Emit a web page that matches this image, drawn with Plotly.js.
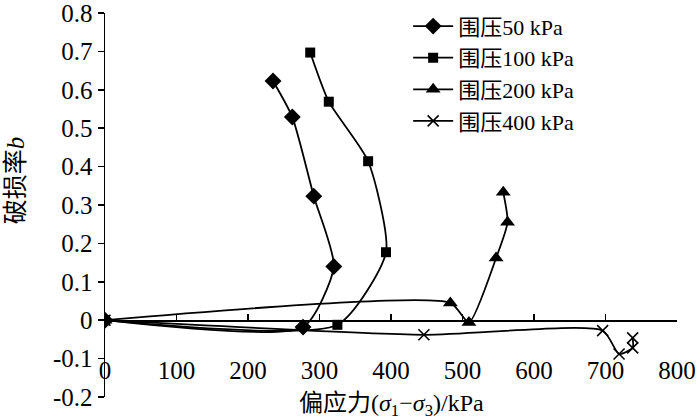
<!DOCTYPE html>
<html>
<head>
<meta charset="utf-8">
<script src="https://cdn.plot.ly/plotly-3.0.1.min.js"></script>
<style>html,body{margin:0;padding:0;background:#fff;}#chart{width:700px;height:420px;}</style>
</head>
<body>
<div id="chart"></div>
<script>
// Data
const seriesNames = ["围压50 kPa", "围压100 kPa", "围压200 kPa", "围压400 kPa"];
const x50  = [0, 277, 320, 292, 262, 235];
const y50  = [0, -0.018, 0.140, 0.323, 0.529, 0.623];
const x100 = [0, 325, 393, 368, 313, 287];
const y100 = [0, -0.012, 0.177, 0.414, 0.569, 0.697];
const x200 = [0, 483, 509, 547, 563, 557];
const y200 = [0, 0.045, -0.006, 0.162, 0.255, 0.333];
const x400 = [0, 446, 696, 719, 738, 738];
const y400 = [0, -0.038, -0.027, -0.088, -0.072, -0.046];
const xTickVals = [0, 100, 200, 300, 400, 500, 600, 700, 800];
const yTickVals = [0.8, 0.7, 0.6, 0.5, 0.4, 0.3, 0.2, 0.1, 0, -0.1, -0.2];
const yTickText = ["0.8", "0.7", "0.6", "0.5", "0.4", "0.3", "0.2", "0.1", "0", "-0.1", "-0.2"];

const FONT = "Liberation Serif, Times New Roman, Noto Sans CJK SC, serif";
const lineStyle = {color: "#000", width: 1.8, shape: "spline", smoothing: 0.6};

const traces = [
  {x: x50, y: y50, name: seriesNames[0], mode: "lines+markers", line: lineStyle,
   marker: {symbol: "diamond", size: 13, color: "#000"}},
  {x: x100, y: y100, name: seriesNames[1], mode: "lines+markers", line: lineStyle,
   marker: {symbol: "square", size: 10, color: "#000"}},
  {x: x200, y: y200, name: seriesNames[2], mode: "lines+markers", line: lineStyle,
   marker: {symbol: "triangle-up", size: 13, color: "#000"}},
  {x: x400, y: y400, name: seriesNames[3], mode: "lines+markers", line: lineStyle,
   marker: {symbol: "x-thin-open", size: 11, color: "#000", line: {color: "#000", width: 1.6}}}
];

const layout = {
  width: 700, height: 420,
  margin: {l: 105, r: 23, t: 13, b: 23, autoexpand: false},
  paper_bgcolor: "#fff", plot_bgcolor: "#fff",
  font: {family: FONT, size: 25, color: "#000"},
  showlegend: true,
  legend: {x: 0.53, y: 1.02, xanchor: "left", yanchor: "top",
           bgcolor: "rgba(0,0,0,0)", font: {family: FONT, size: 22, color: "#000"},
           itemwidth: 40, tracegroupgap: 0},
  xaxis: {range: [0, 800], anchor: "free", position: 0.2,
          showline: true, linecolor: "#000", linewidth: 1.5,
          ticks: "inside", ticklen: 6, tickwidth: 1.5, tickcolor: "#000",
          tickmode: "array", tickvals: xTickVals,
          ticklabelstandoff: 27, ticklabeloverflow: "allow",
          showgrid: false, zeroline: false,
          tickfont: {family: FONT, size: 25, color: "#000"}},
  yaxis: {range: [-0.2, 0.8], anchor: "x",
          showline: true, linecolor: "#000", linewidth: 1.5,
          ticks: "outside", ticklen: 6, tickwidth: 1.5, tickcolor: "#000",
          tickmode: "array", tickvals: yTickVals, ticktext: yTickText,
          ticklabeloverflow: "allow",
          showgrid: false, zeroline: false,
          tickfont: {family: FONT, size: 25, color: "#000"}},
  annotations: [
    {text: "偏应力(<i>σ</i><sub>1</sub>−<i>σ</i><sub>3</sub>)/kPa", xref: "paper", yref: "paper",
     x: 0.5, y: -0.022, xanchor: "center", yanchor: "middle", showarrow: false,
     font: {family: FONT, size: 24, color: "#000"}},
    {text: "破损率<i>b</i>", xref: "paper", yref: "paper", textangle: -90,
     x: -0.157, y: 0.565, xanchor: "center", yanchor: "middle", showarrow: false,
     font: {family: FONT, size: 25, color: "#000"}}
  ]
};

Plotly.newPlot("chart", traces, layout, {displayModeBar: false, staticPlot: true});
</script>
</body>
</html>
